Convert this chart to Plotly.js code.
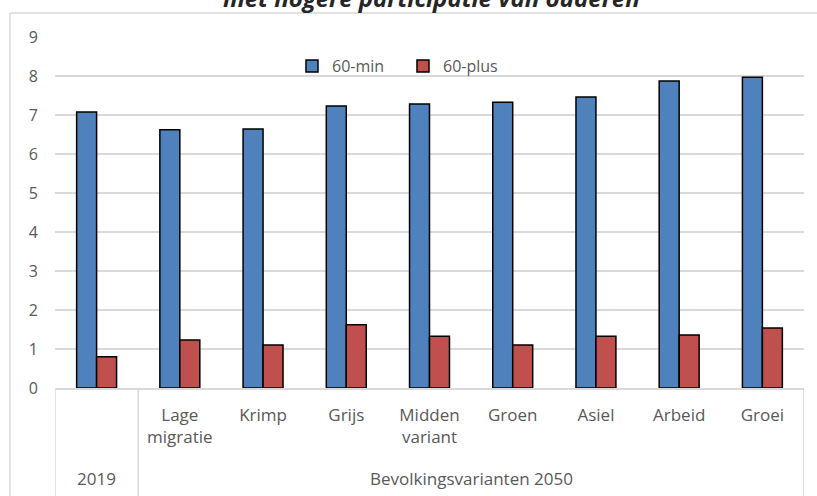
<!DOCTYPE html>
<html><head><meta charset="utf-8">
<script src="https://cdn.plot.ly/plotly-3.0.1.min.js"></script>
<style>html,body{margin:0;padding:0;background:#fff}#chart{width:817px;height:496px}</style>
</head><body><div id="chart"></div>
<script>
const categories = ["", "Lage<br>migratie", "Krimp", "Grijs", "Midden<br>variant", "Groen", "Asiel", "Arbeid", "Groei"];
const groups = ["2019", "Bevolkingsvarianten 2050"];
const groupFirst = [0, 1];
const groupLast = [0, 8];
const min60 = [7.08, 6.62, 6.64, 7.23, 7.28, 7.33, 7.46, 7.87, 7.97];
const plus60 = [0.80, 1.23, 1.10, 1.62, 1.33, 1.10, 1.33, 1.36, 1.54];
const yTicks = [0, 1, 2, 3, 4, 5, 6, 7, 8, 9];
const seriesNames = ["60-min", "60-plus"];
const titleText = "met hogere participatie van ouderen";

const FONT = "Open Sans, Noto Sans, sans-serif";
const GREY = "#595959";
const LINE = "#d9d9d9";
const idx = categories.map((_, i) => i);

const traces = [
  {type: "bar", name: seriesNames[0], x: idx, y: min60,
   marker: {color: "#4f81bd", line: {color: "#000", width: 1.5}}},
  {type: "bar", name: seriesNames[1], x: idx, y: plus60,
   marker: {color: "#c0504d", line: {color: "#000", width: 1.5}}}
];

const shapes = [];
const divs = new Set();
groups.forEach((g, i) => { divs.add(groupFirst[i] - 0.5); divs.add(groupLast[i] + 0.5); });
divs.forEach(d => shapes.push({type: "line", xref: "x", yref: "paper", x0: d, x1: d, y0: 0, y1: -0.33,
  line: {color: LINE, width: 1.5}}));
// outer chart border
shapes.push({type: "line", xref: "paper", yref: "paper", x0: -0.0601, x1: 1.1, y0: 1.0684, y1: 1.0684, line: {color: LINE, width: 1.5}});
shapes.push({type: "line", xref: "paper", yref: "paper", x0: -0.0601, x1: -0.0601, y0: 1.0684, y1: -0.35, line: {color: LINE, width: 1.5}});

const annotations = groups.map((g, i) => ({
  text: g, xref: "x", yref: "paper", x: (groupFirst[i] + groupLast[i]) / 2, y: -0.257,
  xanchor: "center", yanchor: "middle", showarrow: false, font: {family: FONT, size: 17, color: GREY}
}));
annotations.push({text: titleText, xref: "paper", yref: "paper", x: 0.503, y: 1.061, xanchor: "center", yanchor: "bottom",
  showarrow: false, font: {family: FONT, size: 24, color: "#262626", style: "italic", weight: "bold"}});

const layout = {
  width: 817, height: 496,
  margin: {l: 55, r: 13, t: 37, b: 108},
  paper_bgcolor: "#fff", plot_bgcolor: "#fff",
  barmode: "group", bargap: 0.52, bargroupgap: 0,
  font: {family: FONT, size: 16, color: GREY},
  xaxis: {range: [-0.5, 8.5], tickvals: idx, ticktext: categories, showgrid: false, zeroline: false,
    showline: true, linecolor: LINE, linewidth: 1.5, ticks: "", ticklabelstandoff: 11,
    tickfont: {family: FONT, size: 17, color: GREY}, fixedrange: true},
  yaxis: {range: [0, 9], tickvals: yTicks, showgrid: true, gridcolor: LINE, gridwidth: 1.5, zeroline: false,
    showline: false, ticks: "", ticklabelstandoff: 16, tickfont: {family: FONT, size: 16, color: GREY}},
  showlegend: true,
  legend: {orientation: "h", x: 0.3164, xanchor: "left", y: 0.917, yanchor: "middle",
    bgcolor: "rgba(0,0,0,0)", font: {family: FONT, size: 16, color: GREY}, itemwidth: 30,
    entrywidth: 66, entrywidthmode: "pixels"},
  shapes: shapes, annotations: annotations
};
Plotly.newPlot("chart", traces, layout, {displayModeBar: false, staticPlot: true});
</script></body></html>
